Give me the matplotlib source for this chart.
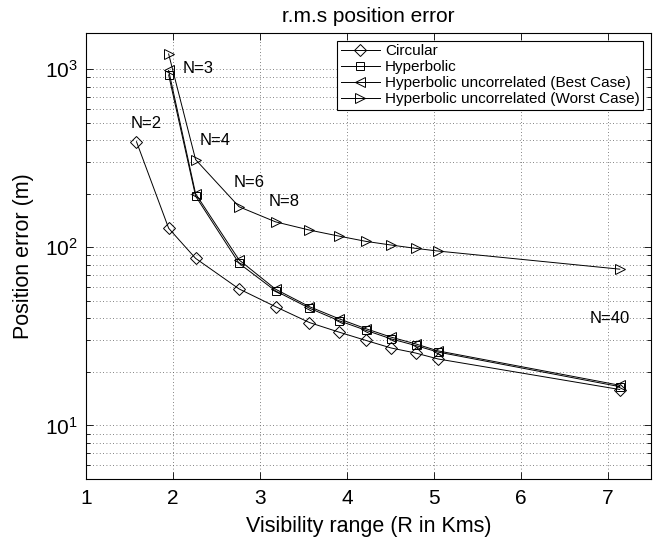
import numpy as np
import matplotlib
matplotlib.use('Agg')
import matplotlib.pyplot as plt
from matplotlib.ticker import LogLocator, NullFormatter

plt.rcParams['font.family'] = ['Liberation Sans', 'DejaVu Sans']
plt.rcParams['mathtext.fontset'] = 'custom'
plt.rcParams['mathtext.rm'] = 'Liberation Sans'
plt.rcParams['mathtext.it'] = 'Liberation Sans'

# visibility range (km) for N = 2,3,4,6,8,10,...,20,40
r_circ = [1.58, 1.95, 2.26, 2.76, 3.18, 3.57, 3.91, 4.22, 4.51, 4.79, 5.05, 7.14]
r_hyp = [1.95, 2.26, 2.76, 3.18, 3.57, 3.91, 4.22, 4.51, 4.79, 5.05, 7.14]

err_circ = [392, 128, 86.7, 58.4, 46.4, 37.8, 33.4, 30.0, 27.2, 25.5, 23.6, 15.9]
err_hyp = [930, 194, 81.3, 56.9, 45.5, 38.7, 34.2, 30.6, 28.1, 25.8, 16.5]
err_best = [985, 200, 85.0, 58.2, 46.4, 39.7, 34.9, 31.3, 28.7, 26.2, 16.8]
err_worst = [1219, 311, 169, 139, 125, 115.6, 108, 103, 98.7, 95.3, 75.4]

n_labels = ['N=2', 'N=3', 'N=4', 'N=6', 'N=8', 'N=40']
n_label_x = [1.51, 2.11, 2.31, 2.70, 3.10, 6.79]
n_label_y = [499, 1013, 399, 231, 180, 40]

fig = plt.figure(figsize=(6.57, 5.40), dpi=100)
ax = fig.add_axes([0.131, 0.113, 0.860, 0.826])

mk = dict(color='black', lw=0.7, markerfacecolor='none', markeredgecolor='black',
          markersize=7, markeredgewidth=0.7)
ax.semilogy(r_circ, err_circ, marker='D', label='Circular', **dict(mk, markersize=6))
ax.semilogy(r_hyp, err_hyp, marker='s', label='Hyperbolic', **dict(mk, markersize=6))
ax.semilogy(r_hyp, err_best, marker='<', label='Hyperbolic uncorrelated (Best Case)', **mk)
ax.semilogy(r_hyp, err_worst, marker='>', label='Hyperbolic uncorrelated (Worst Case)', **mk)

for t, x, y in zip(n_labels, n_label_x, n_label_y):
    ax.text(x, y, t, fontsize=12, ha='left', va='center')

ax.set_xlim(1, 7.5)
ax.set_ylim(5, 1600)
ax.set_xticks([1, 2, 3, 4, 5, 6, 7])
ax.yaxis.set_major_locator(LogLocator(base=10))
ax.yaxis.set_minor_locator(LogLocator(base=10, subs=np.arange(2, 10)))
ax.yaxis.set_minor_formatter(NullFormatter())

ax.tick_params(which='both', direction='in', top=True, right=True, labelsize=15)
ax.tick_params(which='major', length=5, width=0.6)
ax.tick_params(which='minor', length=3, width=0.6)
ax.tick_params(axis='x', pad=7)
ax.tick_params(axis='y', pad=6)
for s in ax.spines.values():
    s.set_linewidth(0.8)

ax.grid(True, which='major', axis='x', linestyle=(0, (1, 3)), color='0.35', lw=0.6)
ax.grid(True, which='both', axis='y', linestyle=(0, (1, 3)), color='0.35', lw=0.6)

ax.set_title('r.m.s position error', fontsize=15, pad=8)
ax.set_xlabel('Visibility range (R in Kms)', fontsize=15.5, labelpad=6)
ax.set_ylabel('Position error (m)', fontsize=15.5, labelpad=8)

leg = ax.legend(loc='upper right', fontsize=11, fancybox=False, framealpha=1,
                edgecolor='black', borderpad=0.25, handlelength=2.6,
                labelspacing=0.12, handletextpad=0.3, borderaxespad=0.5)
leg.get_frame().set_linewidth(0.8)

fig.savefig('out.png', dpi=100)
